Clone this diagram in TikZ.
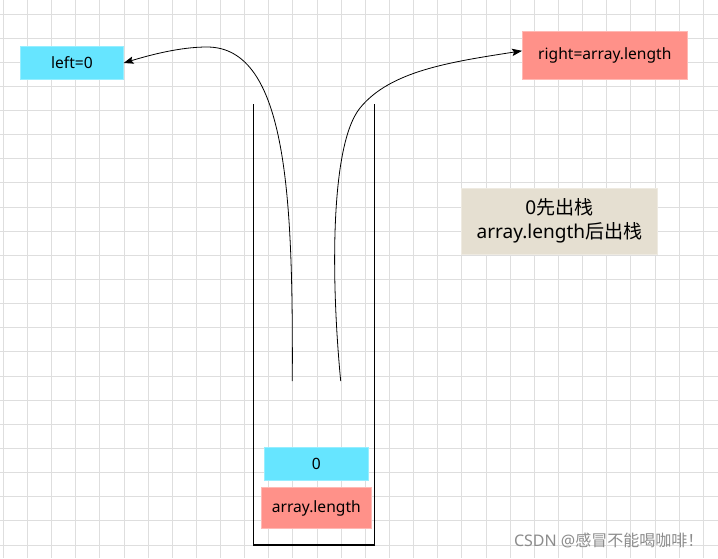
\documentclass[tikz,border=0pt]{standalone}
\usepackage{fontspec}
\setmainfont{Noto Sans}
\newfontfamily\cjk{Noto Sans CJK SC}
\usepackage{tikz}
\usetikzlibrary{arrows.meta,positioning}
\definecolor{cyanfill}{RGB}{102,229,255}
\definecolor{cyanline}{RGB}{150,238,255}
\definecolor{redfill}{RGB}{255,145,137}
\definecolor{redline}{RGB}{255,185,180}
\definecolor{notefill}{RGB}{229,223,209}
\definecolor{noteline}{RGB}{238,234,225}
\definecolor{gridline}{RGB}{222,222,222}
\tikzset{
cbox/.style={draw=cyanline, fill=cyanfill, inner sep=0pt, align=center, font=\fontsize{11.7pt}{14pt}\selectfont},
rbox/.style={draw=redline, fill=redfill, inner sep=0pt, align=center, font=\fontsize{11.7pt}{14pt}\selectfont},
nbox/.style={draw=noteline, fill=notefill, inner sep=0pt, align=center, font=\fontsize{14.3pt}{18pt}\selectfont},
arr/.style={-{Stealth[length=7.5pt, width=5.5pt, inset=1.5pt]}, line width=0.6pt},
stackline/.style={line width=0.8pt}
}

\begin{document}
\begin{tikzpicture}[x=0.75pt, y=-0.75pt]
\useasboundingbox (0,0) rectangle (718,558);
\fill[white] (0,0) rectangle (718,558);
% grid
\foreach \k in {0,...,29}
\draw[gridline, line width=0.75pt] (3.3+24.14*\k, 0) -- (3.3+24.14*\k, 558);
\foreach \k in {0,...,22}
\draw[gridline, line width=0.75pt] (0, 14+24.14*\k) -- (718, 14+24.14*\k);
% stack
\draw[stackline] (253.3,104) -- (253.3,545) -- (374.3,545) -- (374.3,104);
\node[cbox, minimum width=78pt, minimum height=24.2pt] (zero) at (316.3,463.8) {0};
\node[rbox, minimum width=82.5pt, minimum height=30.5pt] (len) at (316.3,508) {array.length};
% pointers
\node[cbox, minimum width=77pt, minimum height=24.5pt] (left) at (72,63) {left=0};
\node[rbox, minimum width=123.75pt, minimum height=35.7pt] (right) at (604.8,55.5) {right=array.length};
\node[nbox, minimum width=146.7pt, minimum height=49.3pt] (note) at (559.5,221.2) {0{\cjk 先出栈}\\array.length{\cjk 后出栈}};
\coordinate (popl) at (292.3,381);
\coordinate (popr) at (340.7,381);
\draw[arr] (popl) .. controls (293,200) and (288,47) .. (207,47) .. controls (180,47) and (150,55) .. (left.east);
\draw[arr] (popr) .. controls (331,280) and (330,145) .. (360,108) .. controls (390,71) and (450,62) .. ([yshift=3.5pt]right.west);
\node[text=black!45, font=\fontsize{12pt}{14pt}\selectfont, anchor=east] (mark) at (708,540) {CSDN @{\cjk 感冒不能喝咖啡！}};
\end{tikzpicture}
\end{document}
